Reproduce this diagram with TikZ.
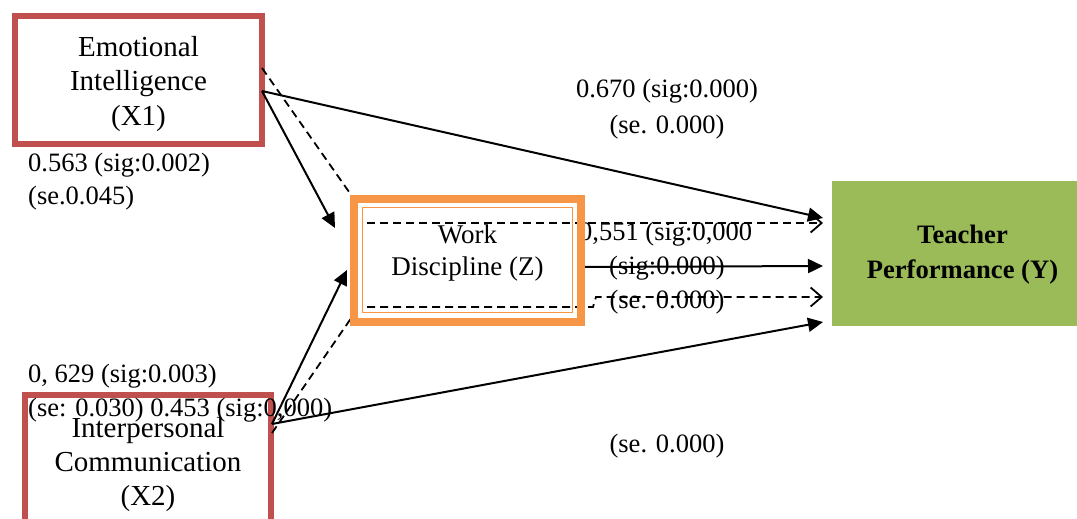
\documentclass[tikz,border=0pt]{standalone}
\usepackage{fontspec}
\setmainfont{Liberation Serif}
\usetikzlibrary{arrows.meta}
\definecolor{xred}{HTML}{C0504D}
\definecolor{zorange}{HTML}{F79646}
\definecolor{ygreen}{HTML}{9BBB59}
\tikzset{
  box/.style={rectangle, inner sep=0pt, outer sep=0pt},
  btxt/.style={inner sep=0pt, anchor=base, font=\fontsize{29}{34}\selectfont},
  ztxt/.style={inner sep=0pt, anchor=base, font=\fontsize{27}{32}\selectfont},
  ytxt/.style={inner sep=0pt, anchor=base, font=\fontsize{26.6}{32}\selectfont\bfseries},
  lblc/.style={inner sep=0pt, anchor=base, font=\fontsize{26.5}{32}\selectfont},
  lblw/.style={inner sep=0pt, anchor=base west, font=\fontsize{26.5}{32}\selectfont},
  conn/.style={line width=2pt, -{Triangle[length=15pt,width=14pt]}},
  dashln/.style={line width=1.8pt, dash pattern=on 8pt off 5pt},
  dconn/.style={dashln, -{Straight Barb[length=11pt,width=19pt,line width=1.8pt]}},
}
\begin{document}
\begin{tikzpicture}[x=1pt,y=-1pt]
\clip (0,0) rectangle (1077,519);
\fill[white] (0,0) rectangle (1077,519);
% boxes
\node[box, draw=xred, line width=6pt, minimum width=247pt, minimum height=128pt] (x1) at (138.5,80) {};
\node[box, draw=xred, line width=6pt, minimum width=246pt, minimum height=135pt] (x2) at (148,462.5) {};
\node[box, fill=ygreen, minimum width=245pt, minimum height=145pt] (y) at (954.5,253.5) {};
% box texts
\node[btxt] (x1t1) at (138.5,57) {Emotional};
\node[btxt] (x1t2) at (138.5,91) {Intelligence};
\node[btxt] (x1t3) at (138.5,125) {(X1)};
\node[btxt] (x2t1) at (148,437) {Interpersonal};
\node[btxt] (x2t2) at (148,471) {Communication};
\node[btxt] (x2t3) at (148,505) {(X2)};
\node[ztxt] (zt1) at (467.5,243) {Work};
\node[ztxt] (zt2) at (467.5,275) {Discipline (Z)};
\node[ytxt] (yt1) at (962.5,243) {Teacher};
\node[ytxt] (yt2) at (962.5,278) {Performance (Y)};
% labels
\node[lblc] (l1) at (667,98) {0.670 (sig:0.000)};
\node[lblc] (l2) at (667,133) {(se. 0.000)};
\node[lblw] (l3) at (28,171) {0.563 (sig:0.002)};
\node[lblw] (l4) at (28,204) {(se.0.045)};
\node[lblw] (l5) at (579,240) {0,551 (sig:0,000};
\node[lblc] (l6) at (667,274) {(sig:0.000)};
\node[lblc] (l7) at (667,308) {(se. 0.000)};
\node[lblw] (l8) at (28,382) {0, 629 (sig:0.003)};
\node[lblw] (l9) at (28,416) {(se: 0.030) 0.453 (sig:0,000)};
\node[lblc] (l10) at (667,452) {(se. 0.000)};
% work discipline box (geometry only, drawn later)
\path node[box, minimum width=227pt, minimum height=123pt] (z) at (467.5,260.5) {};
\coordinate (bend1) at (593,307);
\coordinate (bend2) at (596,297);
% connectors
\draw[conn] ([yshift=-11pt]x1.east) -- ([shift={(-9pt,35.5pt)}]y.west);
\draw[conn] ([yshift=-11pt]x1.east) -- ([shift={(-19pt,32.5pt)}]z.west);
\draw[dashln] ([yshift=12pt]x1.east) -- (z.north west);
\draw[dconn] ([shift={(13pt,37.5pt)}]z.west) -- ([shift={(-9pt,30.5pt)}]y.west);
\draw[conn] ([shift={(-3pt,-6.5pt)}]z.east) -- ([shift={(-9pt,-12.5pt)}]y.west);
\draw[dashln] ([shift={(1pt,29.5pt)}]x2.east) -- ([yshift=8pt]z.south west);
\draw[dconn] ([shift={(13pt,15pt)}]z.south west) -- (bend1) -- (bend2) -- ([shift={(-9pt,-43.5pt)}]y.west);
\draw[conn] ([shift={(1pt,38.5pt)}]x2.east) -- ([shift={(-7pt,-9.5pt)}]z.west);
\draw[conn] ([shift={(1pt,38.5pt)}]x2.east) -- ([shift={(-9pt,-68.5pt)}]y.west);
% Z box frame
\node[box, draw=zorange, line width=8pt, minimum width=227pt, minimum height=123pt] (zframe) at (467.5,260.5) {};
\node[box, draw=zorange, line width=1.6pt, minimum width=210pt, minimum height=105pt] (zin) at (467.5,260) {};
\end{tikzpicture}
\end{document}
